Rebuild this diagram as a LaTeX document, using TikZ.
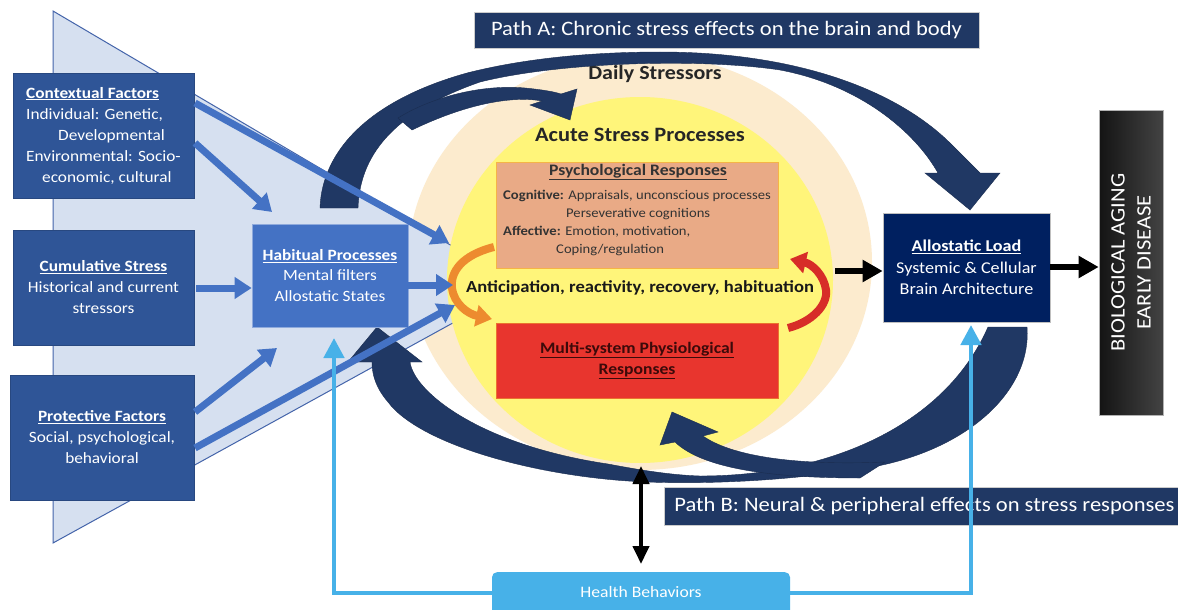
\documentclass[tikz,border=0pt]{standalone}
\usepackage{fontspec}
\setmainfont{Carlito}[FakeStretch=1.1]
\usetikzlibrary{arrows.meta}
\definecolor{ctxblue}{RGB}{47,85,151}
\definecolor{habblue}{RGB}{68,114,196}
\definecolor{trifill}{RGB}{214,224,240}
\definecolor{triline}{RGB}{68,100,170}
\definecolor{navy}{RGB}{32,56,100}
\definecolor{alnavy}{RGB}{0,32,96}
\definecolor{beige}{RGB}{252,235,206}
\definecolor{yel}{RGB}{255,245,122}
\definecolor{psych}{RGB}{233,170,134}
\definecolor{psychline}{RGB}{245,180,70}
\definecolor{multi}{RGB}{232,53,46}
\definecolor{hblue}{RGB}{71,177,232}
\definecolor{orng}{RGB}{237,139,47}
\definecolor{redarr}{RGB}{215,45,40}
\definecolor{bar}{RGB}{20,20,20}
\definecolor{multitext}{RGB}{60,10,10}
\begin{document}
\begin{tikzpicture}[x=1pt,y=-1pt,
  ctx/.style={fill=ctxblue, draw=ctxblue!85!black, line width=0.6pt, text=white, inner sep=0pt,
    font=\fontsize{15.7}{21}\selectfont},
  banner/.style={fill=navy, draw=gray!40, line width=0.8pt, text=white, inner sep=0pt,
    font=\fontsize{20.5}{24}\selectfont},
  bluearr/.style={draw=habblue, line width=7pt, -{Triangle[width=21pt,length=17pt]}},
  blackarr/.style={draw=black, line width=6pt, -{Triangle[width=21pt,length=20pt]}},
  hbline/.style={draw=hblue, line width=4.5pt, -{Triangle[width=20pt,length=20pt]}},
  navyshape/.style={fill=navy, draw=navy!80!black, line width=0.4pt},
]
\useasboundingbox (0,0) rectangle (1178,610);
\fill[white] (0,0) rectangle (1178,610);

% circles and triangle
\fill[beige] (640,262) ellipse [x radius=232pt, y radius=208pt];
\filldraw[fill=trifill, draw=triline, line width=1pt] (53,11) -- (520,286) -- (53,543) -- cycle;
\fill[yel] (640,280) ellipse [x radius=193pt, y radius=183pt];

\node[font=\fontsize{20}{24}\selectfont\bfseries, text=black!85] (daily) at (655,74) {Daily Stressors};
\node[font=\fontsize{20.4}{24}\selectfont\bfseries, text=black!85] (acute) at (640,135) {Acute Stress Processes};

% psychological responses
\node[fill=psych, draw=psychline, line width=1pt, minimum width=282, minimum height=106, inner sep=0pt] (psy) at (637,215) {};
\node[font=\fontsize{16}{18}\selectfont\bfseries, text=black!80] (psyT) at (638,172) {\underline{Psychological Responses}};
\node[font=\fontsize{13.3}{18}\selectfont, text=black!80, align=left, anchor=north west, inner sep=0pt] (psyB) at (503,190)
  {\textbf{Cognitive:} Appraisals, unconscious processes\\\hspace*{63pt}Perseverative cognitions\\\textbf{Affective:} Emotion, motivation,\\\hspace*{53pt}Coping/regulation};

% multi-system
\node[fill=multi, draw=orng!70!multi, line width=1pt, minimum width=282, minimum height=75, inner sep=0pt,
  font=\fontsize{16}{21}\selectfont\bfseries, text=multitext, align=center] (multi) at (637,360.5)
  {\underline{Multi-system Physiological}\\\underline{Responses}};

\node[font=\fontsize{16.9}{20}\selectfont\bfseries, text=black!90] (antic) at (640,288) {Anticipation, reactivity, recovery, habituation};

% orange and red curved arrows
\draw[orng, line width=8pt, -{Triangle[width=21pt,length=16pt]}] (494,247) .. controls (462,255) and (450,272) .. (452,288) .. controls (454,304) and (468,314) .. (492,319);
\draw[redarr, line width=8pt, -{Triangle[width=21pt,length=16pt]}] (788,328) .. controls (812,322) and (828,305) .. (826,290) .. controls (824,275) and (812,264) .. (790,259);

% Path A navy arc
\fill[navyshape] (320,208) .. controls (322,150) and (370,100) .. (467,73)
  .. controls (530,57) and (600,52) .. (660,52)
  .. controls (800,52) and (900,92) .. (952,145)
  .. controls (965,158) and (975,168) .. (980,173)
  -- (1000,173) -- (970,210) -- (925,173) -- (938,173)
  .. controls (915,132) and (860,85) .. (780,70)
  .. controls (700,58) and (560,62) .. (480,82)
  .. controls (400,110) and (360,150) .. (358,208) -- cycle;
% branch to daily stressors
\fill[navyshape] (398,118) .. controls (430,98) and (480,84) .. (525,88)
  .. controls (545,90) and (555,92) .. (561,94)
  -- (577,89) -- (570,120) -- (530,105) -- (542,101)
  .. controls (515,96) and (470,102) .. (412,130) -- cycle;

% Path B navy arc
\fill[navyshape] (1027,327) .. controls (1032,395) and (960,455) .. (860,469)
  .. controls (780,482) and (700,484) .. (647,482)
  .. controls (540,478) and (420,445) .. (388,402)
  .. controls (376,388) and (372,375) .. (372,362)
  -- (348,362) -- (377,327) -- (422,362) -- (410,362)
  .. controls (414,392) and (480,445) .. (608,464)
  .. controls (640,470) and (670,475) .. (700,476)
  .. controls (830,476) and (945,425) .. (988,327) -- cycle;
% branch to acute circle
\fill[navyshape] (703,436) .. controls (730,455) and (790,466) .. (885,462)
  -- (860,478) .. controls (760,478) and (700,466) .. (675,442)
  -- (660,445) -- (672,412) -- (718,432) -- cycle;

% left boxes
\node[ctx, minimum width=181, minimum height=125, align=left] (ctxf) at (103.5,135.5)
  {\textbf{\underline{Contextual Factors}}\\Individual: Genetic,\\\hspace*{32pt}Developmental\\Environmental: Socio-\\\hspace*{16pt}economic, cultural};
\node[ctx, minimum width=181, minimum height=115, align=center] (cum) at (103.5,287.5)
  {\textbf{\underline{Cumulative Stress}}\\Historical and current\\stressors};
\node[ctx, minimum width=184, minimum height=125, align=center] (prot) at (102,437.5)
  {\textbf{\underline{Protective Factors}}\\Social, psychological,\\behavioral};
\node[fill=habblue, draw=habblue!60!white, line width=0.8pt, text=white, inner sep=0pt, minimum width=156, minimum height=103,
  align=center, font=\fontsize{15.7}{20.5}\selectfont] (hab) at (330,275.5)
  {\textbf{\underline{Habitual Processes}}\\Mental filters\\Allostatic States};

% coordinates for blue arrows
\coordinate (c1s) at (195,103); \coordinate (c1e) at (449,243);
\coordinate (c2s) at (195,143); \coordinate (c2e) at (272,212);
\coordinate (c3s) at (196,288); \coordinate (c3e) at (hab.west |- c3s);
\coordinate (c4s) at (195,412); \coordinate (c4e) at (277,348);
\coordinate (c5s) at (195,448); \coordinate (c5e) at (455,305);
\coordinate (c6s) at (hab.east |- 0,285); \coordinate (c6e) at (453,285);
\draw[bluearr] (c1s) -- (c1e);
\draw[bluearr] (c2s) -- (c2e);
\draw[bluearr] (c3s) -- (c3e);
\draw[bluearr] (c4s) -- (c4e);
\draw[bluearr] (c5s) -- (c5e);
\draw[bluearr] (c6s) -- (c6e);

% allostatic load and outcome
\node[fill=alnavy, draw=gray!50, line width=0.6pt, text=white, inner sep=0pt, minimum width=167, minimum height=109,
  align=center, font=\fontsize{16.5}{21.5}\selectfont] (allo) at (966.5,267.5)
  {\textbf{\underline{Allostatic Load}}\\Systemic \& Cellular\\Brain Architecture};
\node[left color=bar, right color=bar!80!white, draw=gray!60, line width=0.6pt, inner sep=0pt, minimum width=64, minimum height=305] (bio) at (1131,262.5) {};
\node[rotate=90, text=white, align=center, font=\fontsize{20.5}{26}\selectfont] (bioT) at (bio.center) {BIOLOGICAL AGING\\EARLY DISEASE};

\coordinate (a1s) at (835,271);
\draw[blackarr] (a1s) -- (allo.west |- a1s);
\coordinate (a2s) at (allo.east |- 0,267);
\draw[blackarr] (a2s) -- (bio.west |- a2s);

% banners
\node[banner, minimum width=505, minimum height=36] (pathA) at (726.5,30) {Path A: Chronic stress effects on the brain and body};
\node[banner, minimum width=520, minimum height=38, anchor=west] (pathB) at (664,506) {Path B: Neural \& peripheral effects on stress responses};

% health behaviors
\node[fill=hblue, rounded corners=5pt, minimum width=298, minimum height=50, inner sep=0pt, anchor=north] (hb) at (641,572) {};
\node[text=white, font=\fontsize{16}{18}\selectfont] (hbT) at (641,592) {Health Behaviors};
\coordinate (hbL) at (492,593);
\coordinate (hbR) at (790,593);
\coordinate (habIn) at (334,338);
\coordinate (alloIn) at (971,325);
\draw[hbline] (hbL) -| (habIn);
\draw[hbline] (hbR) -| (alloIn);

% double arrow
\coordinate (dtop) at (641,466);
\draw[black, line width=4pt, {Triangle[width=16pt,length=18pt]}-{Triangle[width=16pt,length=18pt]}] (dtop) -- (hb.north |- 0,564);
\end{tikzpicture}
\end{document}
